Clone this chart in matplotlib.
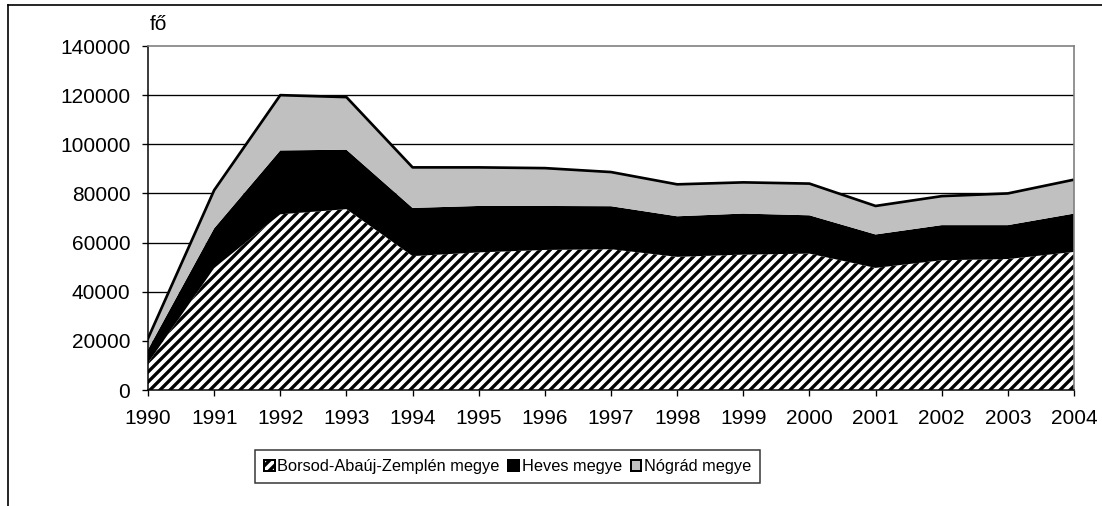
import matplotlib
matplotlib.use("Agg")
import matplotlib.pyplot as plt
from matplotlib.patches import Patch
from matplotlib.lines import Line2D

plt.rcParams['font.family'] = ['Liberation Sans', 'DejaVu Sans']
plt.rcParams['hatch.linewidth'] = 2.0

years = [1990, 1991, 1992, 1993, 1994, 1995, 1996, 1997,
         1998, 1999, 2000, 2001, 2002, 2003, 2004]
borsod = [11000, 49600, 71500, 73600, 54500, 56000, 57000, 57300,
          54200, 55100, 55500, 49700, 52800, 53300, 56200]
heves = [5500, 16200, 26000, 24200, 19600, 18900, 17900, 17500,
         16500, 16700, 15600, 13600, 14300, 13800, 15600]
nograd = [4500, 15500, 22500, 21400, 16500, 15700, 15400, 13900,
          13000, 12700, 12900, 11600, 11800, 12900, 13800]
labels = ['Borsod-Abaúj-Zemplén megye', 'Heves megye', 'Nógrád megye']
yticks = [0, 20000, 40000, 60000, 80000, 100000, 120000, 140000]

dpi = 120
fig = plt.figure(figsize=(1102 / dpi, 506 / dpi), dpi=dpi)
ax = fig.add_axes([148 / 1102, 1 - 390 / 506, (1074 - 148) / 1102, (390 - 46) / 506])

# cumulative layers
lvl1 = borsod
lvl2 = [a + b for a, b in zip(borsod, heves)]
lvl3 = [a + b for a, b in zip(lvl2, nograd)]

for y in yticks[1:-1]:
    ax.axhline(y, color='black', lw=0.8, zorder=0)

# '////' gives ~10px stripe period at 120 dpi
ax.fill_between(years, 0, lvl1, facecolor='white', edgecolor='black',
                hatch='////', linewidth=0, zorder=1)
ax.fill_between(years, lvl1, lvl2, facecolor='black', linewidth=0, zorder=1)
ax.fill_between(years, lvl2, lvl3, facecolor='#c0c0c0', linewidth=0, zorder=1)
ax.plot(years, lvl3, color='black', lw=1.6, zorder=2)

ax.set_xlim(1990, 2004)
ax.set_ylim(0, 140000)
ax.set_xticks(years)
ax.set_yticks(yticks)
ax.tick_params(axis='both', direction='out', length=3.6, width=0.8,
               labelsize=12.5, colors='black')
ax.tick_params(axis='x', pad=7.5)
ax.tick_params(axis='y', pad=7)
for side in ['left', 'bottom']:
    ax.spines[side].set_color('black')
    ax.spines[side].set_linewidth(0.9)
for side in ['top', 'right']:
    ax.spines[side].set_color('#808080')
    ax.spines[side].set_linewidth(1.0)

fig.text(150 / 1102, 1 - 24 / 506, 'fő', fontsize=12.5, ha='left', va='center')

handles = [
    Patch(facecolor='white', edgecolor='black', hatch='////', linewidth=1.2),
    Patch(facecolor='black', edgecolor='black', linewidth=1.2),
    Patch(facecolor='#c0c0c0', edgecolor='black', linewidth=1.2),
]
leg = fig.legend(handles, labels, loc='center', bbox_to_anchor=(0.4605, 1 - 466.5 / 506),
                 ncol=3, fontsize=9.8, frameon=True, fancybox=False,
                 edgecolor='black', handlelength=0.65, handleheight=0.65,
                 handletextpad=0.15, columnspacing=0.55, borderpad=0.55,
                 borderaxespad=0)
leg.get_frame().set_linewidth(0.9)

# outer chart frame
fig.add_artist(Line2D([8 / 1102, 8 / 1102], [0, 1 - 5 / 506], color='black',
                      lw=1.0, transform=fig.transFigure))
fig.add_artist(Line2D([8 / 1102, 1], [1 - 5 / 506, 1 - 5 / 506], color='black',
                      lw=1.0, transform=fig.transFigure))

fig.savefig('out.png', dpi=dpi)
